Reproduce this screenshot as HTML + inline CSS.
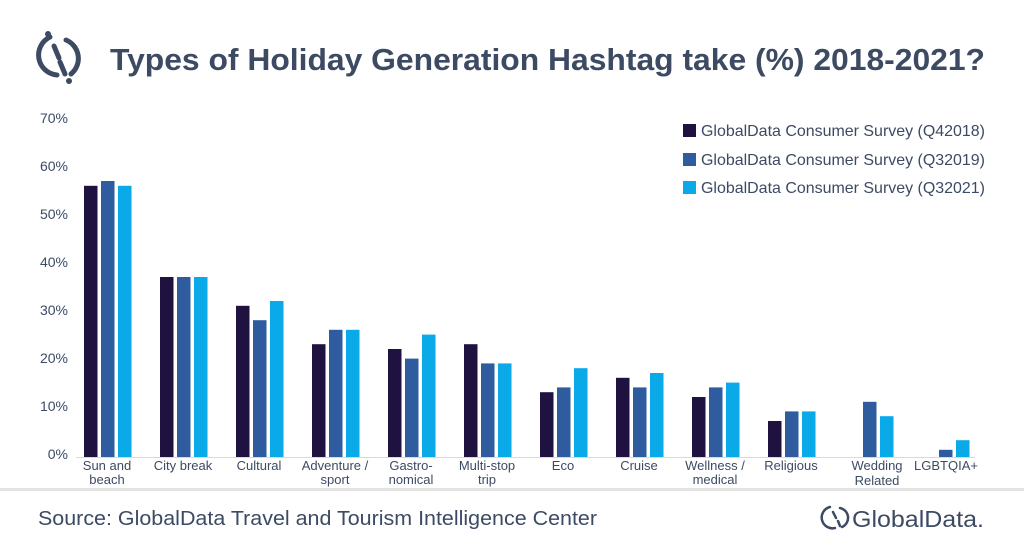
<!DOCTYPE html>
<html><head><meta charset="utf-8"><style>
body{margin:0;background:#fff;}
svg{display:block;font-family:"Liberation Sans",sans-serif;}
</style></head><body>
<svg width="1024" height="548" viewBox="0 0 1024 548" xmlns="http://www.w3.org/2000/svg">
<g fill="none" stroke="#3d4a63" stroke-width="5" stroke-linecap="round">
<path d="M50 37 A20 20 0 0 0 57 75"/>
<path d="M66 40 A20 20 0 0 1 71 74"/>
<path d="M54 46 L59 58"/><path d="M60 62 L65 74"/>
</g>
<circle cx="48" cy="34" r="3" fill="#3d4a63"/><circle cx="69" cy="81" r="3" fill="#3d4a63"/>
<text x="110" y="70" font-size="31" font-weight="bold" fill="#3d4a63" textLength="875" lengthAdjust="spacingAndGlyphs">Types of Holiday Generation Hashtag take (%) 2018-2021?</text>
<g font-size="14" fill="#3d4a63" text-anchor="end">
<text x="68" y="123">70%</text><text x="68" y="171">60%</text><text x="68" y="219">50%</text><text x="68" y="267">40%</text><text x="68" y="315">30%</text><text x="68" y="363">20%</text><text x="68" y="411">10%</text><text x="68" y="459">0%</text>
</g>
<line x1="76" y1="457.5" x2="975" y2="457.5" stroke="#d9d9d9" stroke-width="1"/>
<g>
<rect x="84" y="185.8" width="13.5" height="271.2" fill="#1f1240"/><rect x="101" y="181" width="13.5" height="276" fill="#2e5c9e"/><rect x="118" y="185.8" width="13.5" height="271.2" fill="#0aa9e8"/>
<rect x="160" y="277" width="13.5" height="180" fill="#1f1240"/><rect x="177" y="277" width="13.5" height="180" fill="#2e5c9e"/><rect x="194" y="277" width="13.5" height="180" fill="#0aa9e8"/>
<rect x="236" y="305.8" width="13.5" height="151.2" fill="#1f1240"/><rect x="253" y="320.2" width="13.5" height="136.8" fill="#2e5c9e"/><rect x="270" y="301" width="13.5" height="156" fill="#0aa9e8"/>
<rect x="312" y="344.2" width="13.5" height="112.8" fill="#1f1240"/><rect x="329" y="329.8" width="13.5" height="127.2" fill="#2e5c9e"/><rect x="346" y="329.8" width="13.5" height="127.2" fill="#0aa9e8"/>
<rect x="388" y="349" width="13.5" height="108" fill="#1f1240"/><rect x="405" y="358.6" width="13.5" height="98.4" fill="#2e5c9e"/><rect x="422" y="334.6" width="13.5" height="122.4" fill="#0aa9e8"/>
<rect x="464" y="344.2" width="13.5" height="112.8" fill="#1f1240"/><rect x="481" y="363.4" width="13.5" height="93.6" fill="#2e5c9e"/><rect x="498" y="363.4" width="13.5" height="93.6" fill="#0aa9e8"/>
<rect x="540" y="392.2" width="13.5" height="64.8" fill="#1f1240"/><rect x="557" y="387.4" width="13.5" height="69.6" fill="#2e5c9e"/><rect x="574" y="368.2" width="13.5" height="88.8" fill="#0aa9e8"/>
<rect x="616" y="377.8" width="13.5" height="79.2" fill="#1f1240"/><rect x="633" y="387.4" width="13.5" height="69.6" fill="#2e5c9e"/><rect x="650" y="373" width="13.5" height="84" fill="#0aa9e8"/>
<rect x="692" y="397" width="13.5" height="60" fill="#1f1240"/><rect x="709" y="387.4" width="13.5" height="69.6" fill="#2e5c9e"/><rect x="726" y="382.6" width="13.5" height="74.4" fill="#0aa9e8"/>
<rect x="768" y="421" width="13.5" height="36" fill="#1f1240"/><rect x="785" y="411.4" width="13.5" height="45.6" fill="#2e5c9e"/><rect x="802" y="411.4" width="13.5" height="45.6" fill="#0aa9e8"/>
<rect x="863" y="401.8" width="13.5" height="55.2" fill="#2e5c9e"/><rect x="880" y="416.2" width="13.5" height="40.8" fill="#0aa9e8"/>
<rect x="939" y="449.8" width="13.5" height="7.2" fill="#2e5c9e"/><rect x="956" y="440.2" width="13.5" height="16.8" fill="#0aa9e8"/>
</g>
<g font-size="13" fill="#3d4a63" text-anchor="middle">
<text x="107" y="470">Sun and</text><text x="107" y="484">beach</text>
<text x="183" y="470">City break</text>
<text x="259" y="470">Cultural</text>
<text x="335" y="470">Adventure /</text><text x="335" y="484">sport</text>
<text x="411" y="470">Gastro-</text><text x="411" y="484">nomical</text>
<text x="487" y="470">Multi-stop</text><text x="487" y="484">trip</text>
<text x="563" y="470">Eco</text>
<text x="639" y="470">Cruise</text>
<text x="715" y="470">Wellness /</text><text x="715" y="484">medical</text>
<text x="791" y="470">Religious</text>
<text x="877" y="470">Wedding</text><text x="877" y="485">Related</text>
<text x="946" y="470">LGBTQIA+</text>
</g>
<g font-size="16" fill="#3d4a63">
<rect x="683" y="124" width="13" height="13" fill="#1f1240"/><text x="701" y="136" textLength="284" lengthAdjust="spacingAndGlyphs">GlobalData Consumer Survey (Q42018)</text>
<rect x="683" y="153" width="13" height="13" fill="#2e5c9e"/><text x="701" y="165" textLength="284" lengthAdjust="spacingAndGlyphs">GlobalData Consumer Survey (Q32019)</text>
<rect x="683" y="181" width="13" height="13" fill="#0aa9e8"/><text x="701" y="193" textLength="284" lengthAdjust="spacingAndGlyphs">GlobalData Consumer Survey (Q32021)</text>
</g>
<line x1="0" y1="489.5" x2="1024" y2="489.5" stroke="#e3e3e3" stroke-width="3"/>
<text x="38" y="525" font-size="20" fill="#3d4a63" textLength="559" lengthAdjust="spacingAndGlyphs">Source: GlobalData Travel and Tourism Intelligence Center</text>
<g fill="none" stroke="#3d4a63" stroke-width="2.5" stroke-linecap="round">
<path d="M830 507 A10 10 0 0 0 835 528"/><path d="M840 508 A10 10 0 0 1 842 527"/>
<path d="M833 512 L836 518"/><path d="M838 521 L840 526"/>
</g>
<text x="852" y="527" font-size="23" fill="#3d4a63" textLength="132" lengthAdjust="spacingAndGlyphs">GlobalData.</text>
</svg>
</body></html>
